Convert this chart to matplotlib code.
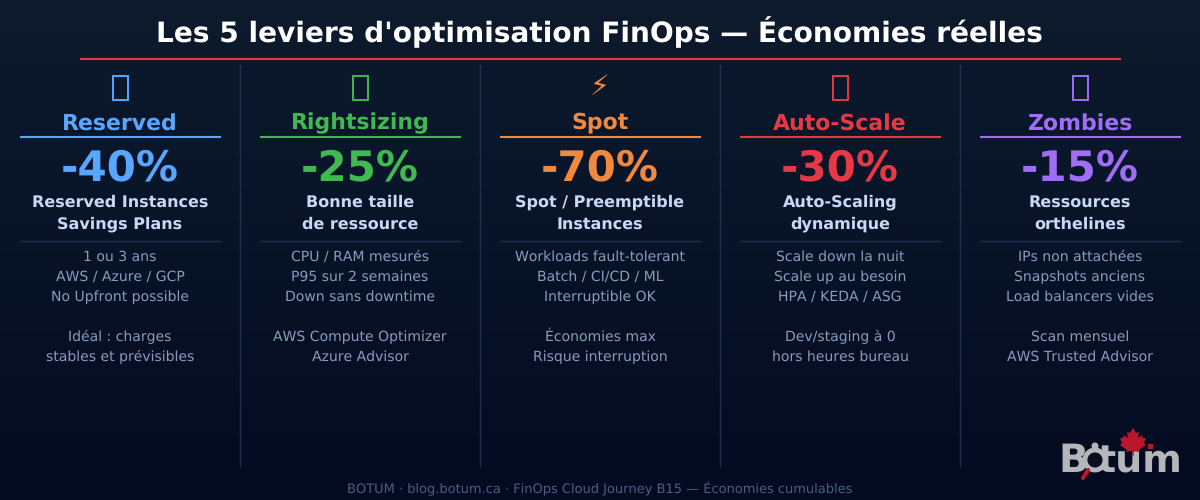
import numpy as np
import matplotlib
matplotlib.use("Agg")
import matplotlib.pyplot as plt
from matplotlib.colors import LinearSegmentedColormap
from matplotlib.patches import Circle, Polygon, Rectangle

plt.rcParams["font.family"] = ["DejaVu Sans"]
plt.rcParams["text.hinting"] = "no_hinting"
plt.rcParams["text.hinting_factor"] = 1

title = "Les 5 leviers d'optimisation FinOps — Économies réelles"
footer = "BOTUM · blog.botum.ca · FinOps Cloud Journey B15 — Économies cumulables"
icons = ["", "", "⚡", "", ""]
names = ["Reserved", "Rightsizing", "Spot", "Auto-Scale", "Zombies"]
savings = [-40, -25, -70, -30, -15]
colors = ["#58a6ff", "#3fb950", "#f0883e", "#e63946", "#9f6ef5"]
subtitles = [
    ["Reserved Instances", "Savings Plans"],
    ["Bonne taille", "de ressource"],
    ["Spot / Preemptible", "Instances"],
    ["Auto-Scaling", "dynamique"],
    ["Ressources", "orthelines"],
]
details = [
    ["1 ou 3 ans", "AWS / Azure / GCP", "No Upfront possible", "", "Idéal : charges", "stables et prévisibles"],
    ["CPU / RAM mesurés", "P95 sur 2 semaines", "Down sans downtime", "", "AWS Compute Optimizer", "Azure Advisor"],
    ["Workloads fault-tolerant", "Batch / CI/CD / ML", "Interruptible OK", "", "Économies max", "Risque interruption"],
    ["Scale down la nuit", "Scale up au besoin", "HPA / KEDA / ASG", "", "Dev/staging à 0", "hors heures bureau"],
    ["IPs non attachées", "Snapshots anciens", "Load balancers vides", "", "Scan mensuel", "AWS Trusted Advisor"],
]
name_y = [130.5, 129.4, 128.5, 130.5, 130.5]

fig = plt.figure(figsize=(12, 5), dpi=100)
ax = fig.add_axes([0, 0, 1, 1])
ax.set_xlim(0, 1200)
ax.set_ylim(500, 0)
ax.axis("off")

cmap = LinearSegmentedColormap.from_list("bg", ["#0d1b2d", "#040b21"])
ax.imshow(np.linspace(0, 1, 256)[:, None], extent=(0, 1200, 500, 0), cmap=cmap, aspect="auto", zorder=0)

ax.text(599.5, 42, title, color="white", fontsize=20, fontweight="bold", ha="center", va="baseline")
ax.plot([80, 1121], [59, 59], color="#e63946", lw=1.5, solid_capstyle="butt")

for i in range(5):
    cx = 120 + 240 * i
    c = colors[i]
    if i < 4:
        ax.plot([cx + 120] * 2, [65, 466], color="#1e3050", lw=1)
    if icons[i]:
        ax.text(cx - 1, 95, icons[i], color=c, fontsize=20, ha="center", va="baseline")
    else:
        # the reference shows a missing-glyph box here
        ax.add_patch(Rectangle((cx - 7, 75.5), 14.5, 24.5, fc="none", ec=c, lw=1.4))
    ax.text(cx, name_y[i], names[i], color=c, fontsize=15.5, fontweight="bold", ha="center", va="baseline")
    ax.plot([cx - 100, cx + 101], [137, 137], color=c, lw=1.5, solid_capstyle="butt")
    ax.text(cx, 180.5, f"{savings[i]}%", color=c, fontsize=30, fontweight="bold", ha="center", va="baseline")
    for j, s in enumerate(subtitles[i]):
        ax.text(cx, 207 + 22 * j, s, color="#c9d8f5", fontsize=11.5, fontweight="bold", ha="center", va="baseline")
    ax.plot([cx - 100, cx + 101], [240.5, 240.5], color="#1e3050", lw=1, solid_capstyle="butt")
    for j, s in enumerate(details[i]):
        if s:
            ax.text(cx, 261 + 20 * j, s, color="#8a9bbd", fontsize=10, ha="center", va="baseline")

ax.text(600, 493, footer, color="#4a5f85", fontsize=9.3, ha="center", va="baseline")

# Logo
grey = "#b4b6ba"
red = "#b8182c"
ax.text(1058, 472, "B", color=grey, fontsize=28, fontweight="bold", ha="left", va="baseline", zorder=3)
ax.text(1182, 472, "tum", color=grey, fontsize=27, fontweight="bold", ha="right", va="baseline", zorder=3)
ax.add_patch(Circle((1095, 460), 10, fc="#0a1020", ec=grey, lw=3.5, zorder=4))
ax.add_patch(Circle((1095, 446), 3.5, fc=grey, ec="none", zorder=4))
ax.plot([1088, 1083], [470, 478], color=red, lw=3, zorder=4, solid_capstyle="round")
leaf = np.array([(0, -14), (3, -9), (6, -10), (5, -4), (9, -7), (10, -4), (13, -4), (11, 1), (13, 3), (6, 8), (7, 10),
                 (1, 9), (0.5, 14), (-0.5, 14), (-1, 9), (-7, 10), (-6, 8), (-13, 3), (-11, 1), (-13, -4), (-10, -4),
                 (-9, -7), (-5, -4), (-6, -10), (-3, -9)])
ax.add_patch(Polygon(leaf + [1133, 442], closed=True, fc=red, ec="none", zorder=5))
ax.add_patch(Rectangle((1148, 444), 5, 5, fc=red, ec="none", zorder=5))

fig.savefig("out.png", dpi=100, facecolor="#040b21")
